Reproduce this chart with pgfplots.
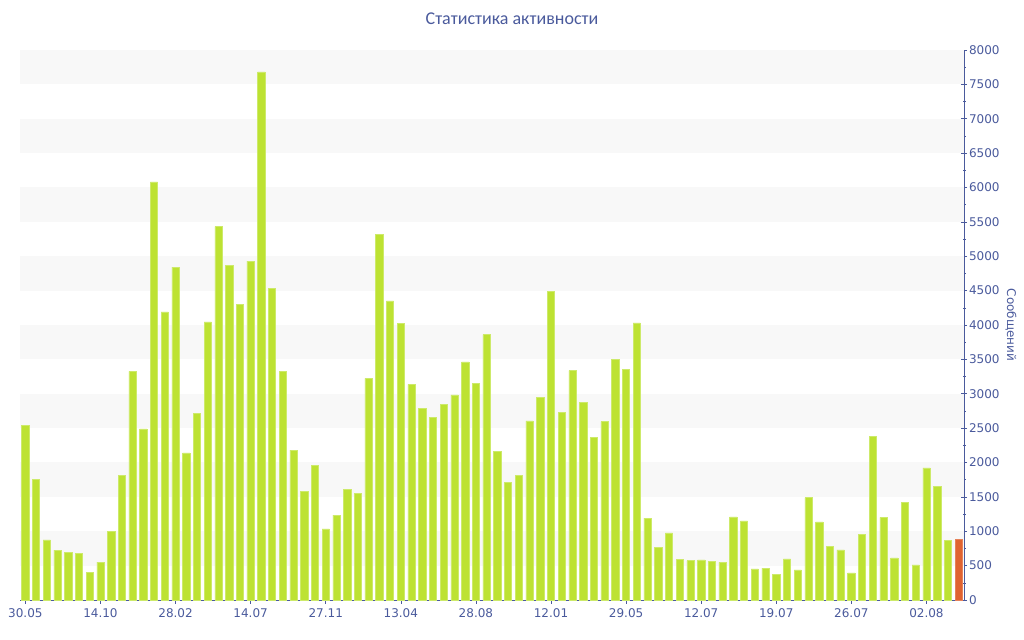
\documentclass[border=0pt]{standalone}
\usepackage{fontspec}
\setmainfont{DejaVu Sans}
\newfontfamily\titlefont{Carlito}
\usepackage{pgfplots}
\pgfplotsset{compat=1.18}
\usepackage{pgfplotstable}
\definecolor{barg}{HTML}{BDE232}
\definecolor{bargedge}{HTML}{CDEA6A}
\definecolor{baro}{HTML}{E06330}
\definecolor{axblue}{HTML}{4A5A9C}
\definecolor{band}{HTML}{F8F8F8}
\pgfplotstableread{
x y
0 2545
1 1755
2 875
3 725
4 695
5 675
6 405
7 550
8 995
9 1810
10 3325
11 2490
12 6080
13 4190
14 4840
15 2140
16 2710
17 4045
18 5430
19 4870
20 4300
21 4930
22 7680
23 4530
24 3320
25 2180
26 1585
27 1960
28 1035
29 1235
30 1605
31 1555
32 3225
33 5320
34 4350
35 4020
36 3135
37 2785
38 2660
39 2840
40 2985
41 3465
42 3150
43 3860
44 2160
45 1715
46 1810
47 2605
48 2945
49 4490
50 2725
51 3335
52 2875
53 2370
54 2595
55 3495
56 3350
57 4030
58 1190
59 765
60 975
61 590
62 572
63 582
64 562
65 548
66 1208
67 1150
68 452
69 465
70 368
71 598
72 438
73 1490
74 1138
75 782
76 728
77 393
78 953
79 2385
80 1200
81 612
82 1420
83 512
84 1920
85 1658
86 872
}\greendata
\pgfplotstableread{
x y
87 885
}\orangedata
\begin{document}
\begin{tikzpicture}[x=1bp,y=1bp]
\path[use as bounding box] (0,0) rectangle (1024,640);
\begin{axis}[
  at={(20bp,40bp)}, anchor=south west,
  scale only axis, width=944bp, height=550bp,
  xmin=-0.5, xmax=87.5, ymin=0, ymax=8000,
  axis x line*=bottom, axis y line*=right,
  axis line style={axblue, line width=0.8bp},
  ybar, bar width=7.3bp, bar shift=0pt,
  xtick={0,7,...,84},
  xticklabels={30.05,14.10,28.02,14.07,27.11,13.04,28.08,12.01,29.05,12.07,19.07,26.07,02.08},
  ytick={0,500,...,8000},
  minor ytick={250,750,...,7750},
  tick style={axblue, line width=0.6bp},
  major tick length=6bp,
  minor tick length=3bp,
  xtick align=outside,
  ytick align=center,
  x tick style={/pgfplots/major tick length=4bp},
  y tick label style={anchor=west, xshift=-1.5bp},
  x tick label style={yshift=1bp},
  ticklabel style={font=\fontsize{12bp}{14bp}\selectfont, text=axblue},
  /pgf/number format/assume math mode=true,
  /pgf/number format/set thousands separator={},
  scaled y ticks=false,
  ylabel={Сообщений},
  every axis y label/.style={at={(rel axis cs:1,0.5)}, xshift=47bp, rotate=-90, anchor=center, font=\fontsize{12bp}{14bp}\selectfont, text=axblue},
  title={\titlefont Статистика активности},
  title style={at={(axis description cs:0.5212,1.0455)}, anchor=center, font=\fontsize{18bp}{20bp}\selectfont, text=axblue},
  clip=false,
]
\pgfplotsinvokeforeach{500,1500,...,7500}{
  \fill[band] (axis cs:-0.5,#1) rectangle (axis cs:87.5,#1+500);
}
\addplot[fill=barg, draw=bargedge, line width=0.5bp] table[x=x,y=y] {\greendata};
\addplot[fill=baro, draw=baro!80!white, line width=0.5bp] table[x=x,y=y] {\orangedata};
\end{axis}
\end{tikzpicture}
\end{document}
